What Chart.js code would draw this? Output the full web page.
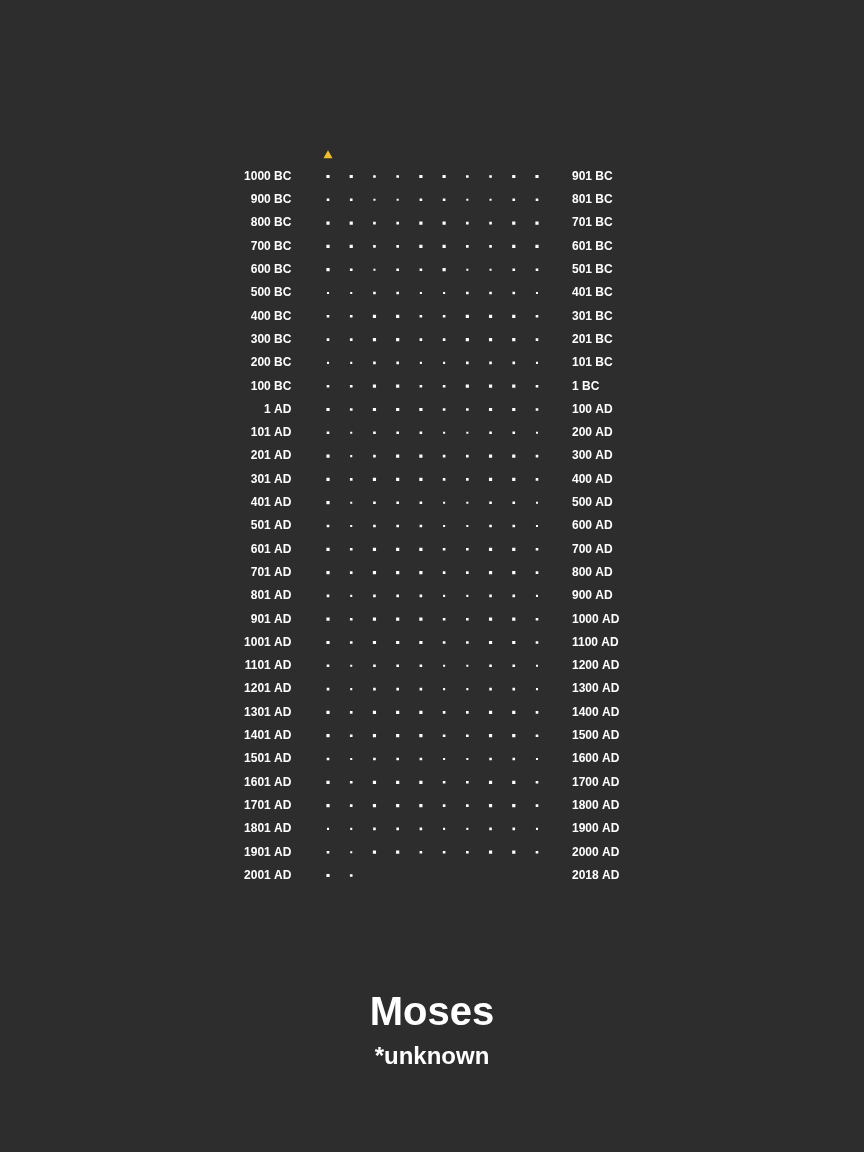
<!DOCTYPE html>
<html>
<head>
<meta charset="utf-8">
<script src="https://cdn.jsdelivr.net/npm/chart.js@4"></script>
<style>
  html, body { margin: 0; padding: 0; background: #2d2d2d; }
  #wrap { width: 864px; height: 1152px; }
</style>
</head>
<body>
<div id="wrap"><canvas id="c" width="864" height="1152"></canvas></div>
<script>
// ---- DATA ----
const leftLabels = [
  "1000 BC","900 BC","800 BC","700 BC","600 BC","500 BC","400 BC","300 BC","200 BC","100 BC",
  "1 AD","101 AD","201 AD","301 AD","401 AD","501 AD","601 AD","701 AD","801 AD","901 AD",
  "1001 AD","1101 AD","1201 AD","1301 AD","1401 AD","1501 AD","1601 AD","1701 AD","1801 AD","1901 AD","2001 AD"
];
const rightLabels = [
  "901 BC","801 BC","701 BC","601 BC","501 BC","401 BC","301 BC","201 BC","101 BC","1 BC",
  "100 AD","200 AD","300 AD","400 AD","500 AD","600 AD","700 AD","800 AD","900 AD","1000 AD",
  "1100 AD","1200 AD","1300 AD","1400 AD","1500 AD","1600 AD","1700 AD","1800 AD","1900 AD","2000 AD","2018 AD"
];
// dot size level per decade (one list per century row)
const decadeSizes = [
  [3,3,2,2,3,3,2,2,3,3],
  [2,2,1,1,2,2,1,1,2,2],
  [3,3,2,2,3,3,2,2,3,3],
  [3,3,2,2,3,3,2,2,3,3],
  [3,2,1,2,2,3,1,1,2,2],
  [1,1,2,2,1,1,2,2,2,1],
  [2,2,3,3,2,2,3,3,3,2],
  [2,2,3,3,2,2,3,3,3,2],
  [1,1,2,2,1,1,2,2,2,1],
  [2,2,3,3,2,2,3,3,3,2],
  [3,2,3,3,3,2,2,3,3,2],
  [2,1,2,2,2,1,1,2,2,1],
  [3,1,2,3,3,2,2,3,3,2],
  [3,2,3,3,3,2,2,3,3,2],
  [3,1,2,2,2,1,1,2,2,1],
  [2,1,2,2,2,1,1,2,2,1],
  [3,2,3,3,3,2,2,3,3,2],
  [3,2,3,3,3,2,2,3,3,2],
  [2,1,2,2,2,1,1,2,2,1],
  [3,2,3,3,3,2,2,3,3,2],
  [3,2,3,3,3,2,2,3,3,2],
  [2,1,2,2,2,1,1,2,2,1],
  [2,1,2,2,2,1,1,2,2,1],
  [3,2,3,3,3,2,2,3,3,2],
  [3,2,3,3,3,2,2,3,3,2],
  [2,1,2,2,2,1,1,2,2,1],
  [3,2,3,3,3,2,2,3,3,2],
  [3,2,3,3,3,2,2,3,3,2],
  [1,1,2,2,2,1,1,2,2,1],
  [2,1,3,3,2,2,2,3,3,2],
  [3,2]
];
const birthDecade = 0;        // column of the marker (birth unknown)
const titleText = "Moses";
const subtitleText = "*unknown";

// ---- STYLE ----
const DOT = "#ffffff";
const MARK = "#f0bf2e";
const radiusFor = { 1: 1.45, 2: 1.85, 3: 2.25 };
const MARKER_ROW = -0.9;

const points = [];
decadeSizes.forEach((row, r) => row.forEach((v, c) => points.push({ x: c, y: r, v: v })));

const textPlugin = {
  id: 'bottomText',
  afterDraw(chart) {
    const ctx = chart.ctx;
    ctx.save();
    ctx.fillStyle = "#ffffff";
    ctx.textAlign = "center";
    ctx.textBaseline = "alphabetic";
    ctx.font = "bold 40px 'Liberation Sans', Arial, sans-serif";
    ctx.fillText(titleText, 432, 1025);
    ctx.font = "bold 24px 'Liberation Sans', Arial, sans-serif";
    ctx.fillText(subtitleText, 432, 1064);
    ctx.restore();
  }
};

const tickFont = { family: "'Liberation Sans', Arial, sans-serif", size: 12, weight: "bold" };
const yCommon = {
  type: 'linear', min: -1.5, max: 30.5, reverse: true,
  grid: { display: false, drawTicks: false }, border: { display: false },
  afterBuildTicks(scale) { scale.ticks = leftLabels.map((_, i) => ({ value: i })); },
};

new Chart(document.getElementById('c'), {
  type: 'scatter',
  data: {
    datasets: [
      {
        data: points,
        pointStyle: 'rect',
        backgroundColor: DOT,
        borderWidth: 0,
        pointRadius: (ctx) => ctx.raw ? radiusFor[ctx.raw.v] : 0,
        yAxisID: 'y'
      },
      {
        data: [{ x: birthDecade, y: MARKER_ROW }],
        pointStyle: 'triangle',
        backgroundColor: MARK,
        borderWidth: 0,
        pointRadius: 5.2,
        clip: false,
        yAxisID: 'y'
      }
    ]
  },
  options: {
    responsive: false,
    animation: false,
    events: [],
    layout: { padding: { left: 196.4, right: 195.4, top: 141.55, bottom: 264.85 } },
    plugins: { legend: { display: false }, tooltip: { enabled: false }, title: { display: false } },
    scales: {
      x: { type: 'linear', min: -0.5, max: 9.5, display: false },
      y: Object.assign({}, yCommon, {
        position: 'left',
        afterFit(scale) { scale.width = 120; },
        ticks: { autoSkip: false, color: "#ffffff", font: tickFont, padding: 25,
                 callback: (v) => leftLabels[v] }
      }),
      y2: Object.assign({}, yCommon, {
        position: 'right',
        afterFit(scale) { scale.width = 120; },
        ticks: { autoSkip: false, color: "#ffffff", font: tickFont, padding: 23.4,
                 callback: (v) => rightLabels[v] }
      })
    }
  },
  plugins: [textPlugin]
});
</script>
</body>
</html>
